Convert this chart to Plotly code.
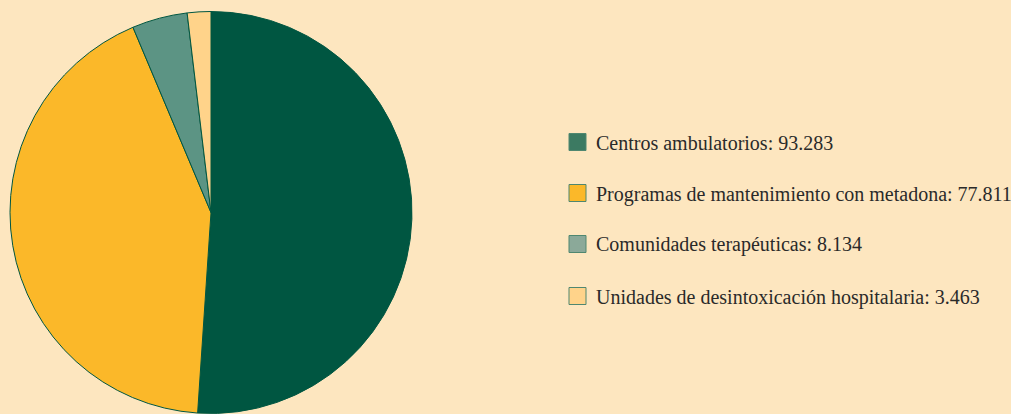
import plotly.graph_objects as go

W, H = 1011, 414
categories = ["Centros ambulatorios", "Programas de mantenimiento con metadona",
              "Comunidades terapéuticas", "Unidades de desintoxicación hospitalaria"]
values = [93283, 77811, 8134, 3463]
pie_colors = ["#005641", "#FBB829", "#5C9484", "#FFD38A"]
legend_colors = ["#3C7A62", "#FBB829", "#8BA999", "#FFD38A"]
bg = "#FDE6BF"

def fmt(v):
    return f"{v:,}".replace(",", ".")

fig = go.Figure(go.Pie(
    labels=categories, values=values, sort=False, direction="clockwise", rotation=0,
    marker=dict(colors=pie_colors, line=dict(color="#005641", width=1)),
    textinfo="none", hoverinfo="label+value",
    domain=dict(x=[10 / W, 412 / W], y=[0, 403 / H]),
    showlegend=False,
))

shapes, annotations = [], []
row_y = [142, 193, 244, 296]
for i, cat in enumerate(categories):
    yc = row_y[i]
    shapes.append(dict(type="rect", xref="paper", yref="paper",
                       x0=569 / W, x1=586 / W, y0=1 - (yc + 8.5) / H, y1=1 - (yc - 8.5) / H,
                       fillcolor=legend_colors[i], line=dict(color="#4F8770", width=1)))
    annotations.append(dict(xref="paper", yref="paper", x=594 / W, y=1 - (yc + 1) / H,
                            xanchor="left", yanchor="middle", showarrow=False,
                            text=f"{cat}: {fmt(values[i])}",
                            font=dict(family="Liberation Serif", size=20, color="#2A2A2A")))

fig.update_layout(width=W, height=H, margin=dict(l=0, r=0, t=0, b=0),
                  paper_bgcolor=bg, plot_bgcolor=bg, shapes=shapes, annotations=annotations)
fig.write_html("out.html", config={"displayModeBar": False},
               post_script="document.body.style.margin='0';document.body.style.background='%s';" % bg)
